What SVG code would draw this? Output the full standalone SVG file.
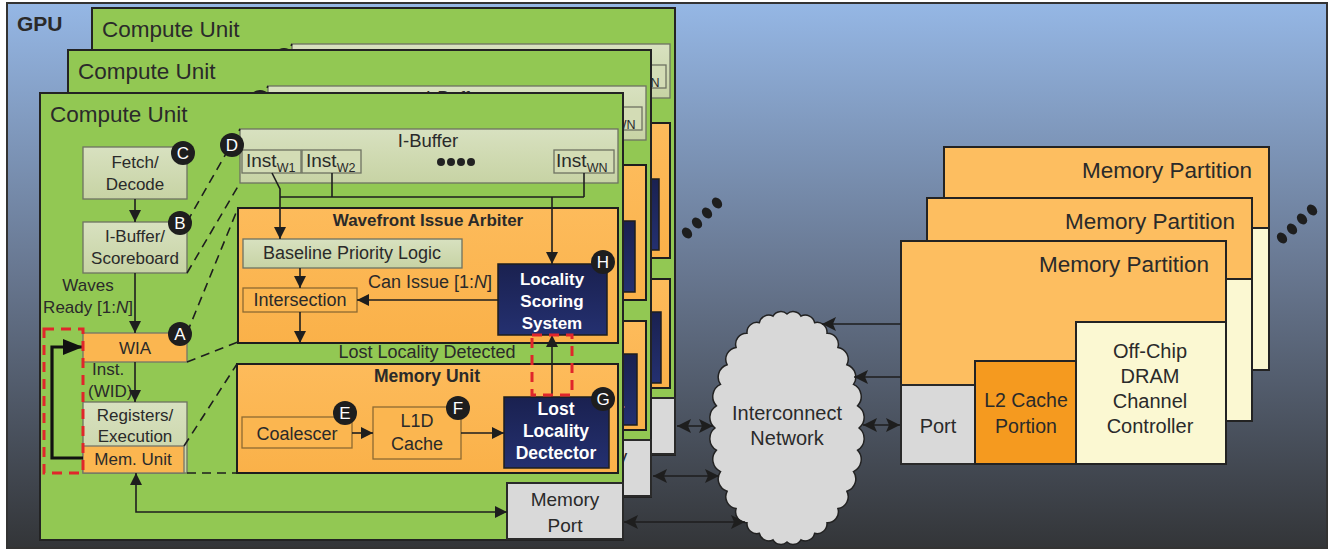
<svg xmlns="http://www.w3.org/2000/svg" width="1330" height="552" viewBox="0 0 1330 552">
<defs>
<linearGradient id="gpuBg" x1="0" y1="0" x2="0" y2="1">
<stop offset="0" stop-color="#95b7e5"/>
<stop offset="0.5" stop-color="#67768f"/>
<stop offset="1" stop-color="#333538"/>
</linearGradient>
<linearGradient id="sageG" x1="0" y1="0" x2="0" y2="1">
<stop offset="0" stop-color="#d8e1c0"/>
<stop offset="1" stop-color="#c7d3a4"/>
</linearGradient>
<linearGradient id="navyG" x1="0" y1="0" x2="0" y2="1">
<stop offset="0" stop-color="#1a2150"/>
<stop offset="1" stop-color="#243070"/>
</linearGradient>
<linearGradient id="orgG" x1="0" y1="0" x2="0" y2="1">
<stop offset="0" stop-color="#fdbb5b"/>
<stop offset="1" stop-color="#fab149"/>
</linearGradient>
<marker id="ah" viewBox="0 0 12 12" refX="12" refY="6" markerWidth="12" markerHeight="12" markerUnits="userSpaceOnUse" orient="auto-start-reverse">
<path d="M0,0 L12,6 L0,12 z" fill="#1e1e1e"/>
</marker>
<marker id="ahBig" viewBox="0 0 20 16" refX="20" refY="8" markerWidth="20" markerHeight="16" markerUnits="userSpaceOnUse" orient="auto-start-reverse">
<path d="M0,0 L20,8 L0,16 z" fill="#111"/>
</marker>
<marker id="ahN" viewBox="0 0 14 14" refX="14" refY="7" markerWidth="14" markerHeight="14" markerUnits="userSpaceOnUse" orient="auto-start-reverse">
<path d="M0,0 L14,7 L0,14 L3,7 z" fill="#1e1e1e"/>
</marker>
<style>
.t{font-family:"Liberation Sans",Arial,sans-serif;fill:#2a2a2a}
.c{text-anchor:middle}
.e{text-anchor:end}
.b{font-weight:bold}
.w{fill:#ffffff}
.ln{stroke:#1e1e1e;stroke-width:1.6;fill:none}
.thick{stroke:#111;stroke-width:3.2;fill:none}
.dash{stroke:#1e1e1e;stroke-width:1.6;stroke-dasharray:9 6;fill:none}
.red{stroke:#e0262b;stroke-width:3;stroke-dasharray:10 7;fill:none}
.sage{fill:url(#sageG);stroke:#6e7262;stroke-width:1.3}
.inst{fill:#d3dcb5;stroke:#6e7262;stroke-width:1.3}
.org{fill:url(#orgG);stroke:#1e1e1e;stroke-width:2}
.orgIn{fill:#fbb650;stroke:#8d6a32;stroke-width:1.3}
.orgG{fill:#fbb650;stroke:#767668;stroke-width:1.3}
.navy{fill:url(#navyG);stroke:#1e1e1e;stroke-width:1.5}
.gray{fill:#d9d9d9;stroke:#2a2a2a;stroke-width:2}
.cu{fill:#92c853;stroke:#232323;stroke-width:2}
.badge circle{fill:#1e1e1e}
.badge text{font-family:"Liberation Sans",Arial,sans-serif;fill:#ffffff;font-size:17px;text-anchor:middle}
.mp{fill:#fdbe60;stroke:#232323;stroke-width:2}
.l2{fill:#f59a1f;stroke:#232323;stroke-width:2}
.dram{fill:#fbf8d2;stroke:#232323;stroke-width:2}
</style>
<g id="cu-template">
<rect class="cu" x="40" y="93" width="583" height="447"/>
<text class="t" x="50" y="122" font-size="22.5">Compute Unit</text>
<g id="i-buffer">
<rect class="sage" x="240" y="129" width="378" height="54"/>
<text class="t c" x="428" y="147" font-size="18.5">I-Buffer</text>
<rect class="inst" x="242" y="150" width="59" height="23"/>
<text class="t" x="246" y="167" font-size="19">Inst<tspan font-size="12.5" dy="5">W1</tspan></text>
<rect class="inst" x="302" y="150" width="59" height="23"/>
<text class="t" x="306" y="167" font-size="19">Inst<tspan font-size="12.5" dy="5">W2</tspan></text>
<g fill="#222"><circle cx="441" cy="162" r="4"/><circle cx="451" cy="162" r="4"/><circle cx="461" cy="162" r="4"/><circle cx="471" cy="162" r="4"/></g>
<rect class="inst" x="554" y="150" width="60" height="23"/>
<text class="t" x="556" y="167" font-size="19">Inst<tspan font-size="12.5" dy="5">WN</tspan></text>
</g>
<g id="fetch-decode">
<rect class="sage" x="83" y="147" width="104" height="52"/>
<text class="t c" x="135" y="168" font-size="17">Fetch/</text>
<text class="t c" x="135" y="190" font-size="17">Decode</text>
</g>
<g id="ibuffer-scoreboard">
<rect class="sage" x="83" y="222" width="104" height="51"/>
<text class="t c" x="135" y="242" font-size="17">I-Buffer/</text>
<text class="t c" x="135" y="264" font-size="17">Scoreboard</text>
</g>
<text class="t c" x="88" y="291" font-size="17">Waves</text>
<text class="t c" x="88" y="313" font-size="17">Ready [1:<tspan font-style="italic">N</tspan>]</text>
<g id="wia">
<rect class="orgG" x="83" y="333" width="104" height="29"/>
<text class="t c" x="135" y="354" font-size="17">WIA</text>
</g>
<text class="t" x="92" y="375" font-size="17">Inst.</text>
<text class="t" x="88" y="397" font-size="17">(WID)</text>
<g id="registers-execution">
<rect class="sage" x="83" y="402" width="104" height="71"/>
<text class="t c" x="135" y="421" font-size="17">Registers/</text>
<text class="t c" x="135" y="442" font-size="17">Execution</text>
</g>
<g id="mem-unit-small">
<rect class="orgG" x="83" y="446" width="101" height="27"/>
<text class="t c" x="133" y="465" font-size="17">Mem. Unit</text>
</g>
<g id="wavefront-issue-arbiter">
<rect class="org" x="238" y="208" width="380" height="135"/>
<text class="t c b" x="428" y="226" font-size="17">Wavefront Issue Arbiter</text>
</g>
<g id="baseline-priority-logic">
<rect class="sage" x="243" y="239" width="219" height="29"/>
<text class="t c" x="352" y="259" font-size="18">Baseline Priority Logic</text>
</g>
<g id="intersection">
<rect class="orgIn" x="243" y="288" width="114" height="24"/>
<text class="t c" x="300" y="306" font-size="18">Intersection</text>
</g>
<g id="locality-scoring-system">
<rect class="navy" x="498" y="264" width="109" height="71"/>
<text class="t c b w" x="552" y="285" font-size="17">Locality</text>
<text class="t c b w" x="552" y="307" font-size="17">Scoring</text>
<text class="t c b w" x="552" y="329" font-size="17">System</text>
</g>
<text class="t e" x="492" y="288" font-size="18">Can Issue [1:<tspan font-style="italic">N</tspan>]</text>
<text class="t c" x="427" y="358" font-size="18">Lost Locality Detected</text>
<g id="memory-unit">
<rect class="org" x="237" y="364" width="381" height="109"/>
<text class="t c b" x="427" y="382" font-size="17.5">Memory Unit</text>
</g>
<g id="coalescer">
<rect class="orgIn" x="242" y="417" width="110" height="31"/>
<text class="t c" x="297" y="440" font-size="18">Coalescer</text>
</g>
<g id="l1d-cache">
<rect class="orgIn" x="373" y="407" width="88" height="52"/>
<text class="t c" x="417" y="427" font-size="18">L1D</text>
<text class="t c" x="417" y="450" font-size="18">Cache</text>
</g>
<g id="lost-locality-detector">
<rect class="navy" x="504" y="397" width="105" height="71"/>
<text class="t c b w" x="556" y="415" font-size="17.5">Lost</text>
<text class="t c b w" x="556" y="437" font-size="17.5">Locality</text>
<text class="t c b w" x="556" y="459" font-size="17.5">Dectector</text>
</g>
<g id="memory-port">
<rect class="gray" x="507" y="483" width="116" height="56"/>
<text class="t c" x="565" y="506" font-size="19">Memory</text>
<text class="t c" x="565" y="532" font-size="19">Port</text>
</g>
<g id="cu-connectors">
<path class="ln" d="M135,199 V222" marker-end="url(#ah)"/>
<path class="ln" d="M135,273 V333" marker-end="url(#ah)"/>
<path class="ln" d="M135,362 V402" marker-end="url(#ah)"/>
<path class="thick" d="M83,458 H52 V347 H83" marker-end="url(#ahBig)"/>
<path class="ln" d="M136,473 V512 H507" marker-start="url(#ah)" marker-end="url(#ah)"/>
<path class="ln" d="M272,173 L280,189 V239" marker-end="url(#ah)"/>
<path class="ln" d="M280,197 H584"/>
<path class="ln" d="M332,173 V197"/>
<path class="ln" d="M584,173 V197"/>
<path class="ln" d="M552,197 V264" marker-end="url(#ah)"/>
<path class="ln" d="M300,268 V288" marker-end="url(#ah)"/>
<path class="ln" d="M300,312 V343" marker-end="url(#ah)"/>
<path class="ln" d="M498,300 H357" marker-end="url(#ah)"/>
<path class="ln" d="M552,397 V335" marker-end="url(#ah)"/>
<path class="ln" d="M352,433 H373" marker-end="url(#ah)"/>
<path class="ln" d="M461,433 H504" marker-end="url(#ah)"/>
<path class="dash" d="M187,222 L240,129"/>
<path class="dash" d="M187,273 L240,183"/>
<path class="dash" d="M187,333 L238,208"/>
<path class="dash" d="M187,362 L238,342"/>
<path class="dash" d="M184,446 L237,364"/>
<path class="dash" d="M187,473 H237"/>
</g>
<g id="badge-C" class="badge"><circle cx="183" cy="153" r="12"/><text x="183" y="159">C</text></g>
<g id="badge-D" class="badge"><circle cx="232" cy="145" r="12"/><text x="232" y="151">D</text></g>
<g id="badge-B" class="badge"><circle cx="180" cy="223" r="12"/><text x="180" y="229">B</text></g>
<g id="badge-A" class="badge"><circle cx="180" cy="334" r="12"/><text x="180" y="340">A</text></g>
<g id="badge-E" class="badge"><circle cx="345" cy="413" r="12"/><text x="345" y="419">E</text></g>
<g id="badge-F" class="badge"><circle cx="458" cy="408" r="12"/><text x="458" y="414">F</text></g>
<rect class="red" x="44" y="329" width="39" height="144"/>
<rect class="red" x="532" y="335" width="40" height="60"/>
</g>
<g id="mp-template">
<rect class="mp" x="0" y="0" width="325" height="223"/>
<text class="t e" x="308" y="31" font-size="22.5">Memory Partition</text>
<rect class="gray" x="0" y="144" width="74" height="79"/>
<text class="t c" x="37" y="192" font-size="20">Port</text>
<rect class="l2" x="74" y="120" width="101" height="103"/>
<text class="t c" x="125" y="166" font-size="19.5">L2 Cache</text>
<text class="t c" x="125" y="192" font-size="19.5">Portion</text>
<rect class="dram" x="175" y="81" width="150" height="142"/>
<text class="t c" x="249" y="117" font-size="20">Off-Chip</text>
<text class="t c" x="249" y="142" font-size="20">DRAM</text>
<text class="t c" x="249" y="167" font-size="20">Channel</text>
<text class="t c" x="249" y="192" font-size="20">Controller</text>
</g>
</defs>

<g id="gpu">
<rect x="7" y="3" width="1320" height="545" fill="url(#gpuBg)" stroke="#333" stroke-width="2"/>
<text class="t b" x="17" y="31" font-size="21" fill="#222">GPU</text>
</g>

<g id="compute-unit-3"><use href="#cu-template" transform="translate(52,-85)"/></g>
<g id="compute-unit-2"><use href="#cu-template" transform="translate(28,-43)"/></g>
<g id="compute-unit-1">
<use href="#cu-template"/>
<g id="badge-H" class="badge"><circle cx="603" cy="262" r="12"/><text x="603" y="268">H</text></g>
<g id="badge-G" class="badge"><circle cx="603" cy="399" r="12"/><text x="603" y="405">G</text></g>
</g>

<g id="cu-ellipsis" fill="#1e1e1e">
<ellipse cx="687" cy="233" rx="4.5" ry="6" transform="rotate(-40 687 233)"/>
<ellipse cx="697" cy="223" rx="4.5" ry="6" transform="rotate(-40 697 223)"/>
<ellipse cx="707" cy="213" rx="4.5" ry="6" transform="rotate(-40 707 213)"/>
<ellipse cx="717" cy="203" rx="4.5" ry="6" transform="rotate(-40 717 203)"/>
</g>

<g id="interconnect-network">
<path fill="#d8d8d8" stroke="#222" stroke-width="1.5" d="M859,428 A13.5,13.5 0 0 1 857.6,450.2 A13.5,13.5 0 0 1 853.5,471.6 A13,13 0 0 1 846.9,491.3 A12,12 0 0 1 837.9,508.6 A11,11 0 0 1 827,522.8 A10,10 0 0 1 814.6,533.3 A9.5,9.5 0 0 1 801,539.8 A9,9 0 0 1 787,542 A9,9 0 0 1 773,539.8 A9.5,9.5 0 0 1 759.4,533.3 A10,10 0 0 1 747,522.8 A11,11 0 0 1 736.1,508.6 A12,12 0 0 1 727.1,491.3 A13,13 0 0 1 720.5,471.6 A13.5,13.5 0 0 1 716.4,450.2 A13.5,13.5 0 0 1 715,428 A13.5,13.5 0 0 1 716.4,405.8 A13.5,13.5 0 0 1 720.5,384.4 A13,13 0 0 1 727.1,364.7 A12,12 0 0 1 736.1,347.4 A11,11 0 0 1 747,333.2 A10,10 0 0 1 759.4,322.7 A9.5,9.5 0 0 1 773,316.2 A9,9 0 0 1 787,314 A9,9 0 0 1 801,316.2 A9.5,9.5 0 0 1 814.6,322.7 A10,10 0 0 1 827,333.2 A11,11 0 0 1 837.9,347.4 A12,12 0 0 1 846.9,364.7 A13,13 0 0 1 853.5,384.4 A13.5,13.5 0 0 1 857.6,405.8 A13.5,13.5 0 0 1 859,428 Z"/>
<text class="t c" x="787" y="420" font-size="20" fill="#333">Interconnect</text>
<text class="t c" x="787" y="445" font-size="20" fill="#333">Network</text>
</g>

<g id="memory-partition-3"><use href="#mp-template" transform="translate(944,147)"/></g>
<g id="memory-partition-2"><use href="#mp-template" transform="translate(927,198)"/></g>
<g id="memory-partition-1"><use href="#mp-template" transform="translate(901,241)"/></g>

<g id="mp-ellipsis" fill="#1e1e1e">
<ellipse cx="1282" cy="238" rx="4.5" ry="6" transform="rotate(-40 1282 238)"/>
<ellipse cx="1292" cy="229" rx="4.5" ry="6" transform="rotate(-40 1292 229)"/>
<ellipse cx="1302" cy="219" rx="4.5" ry="6" transform="rotate(-40 1302 219)"/>
<ellipse cx="1312" cy="210" rx="4.5" ry="6" transform="rotate(-40 1312 210)"/>
</g>

<g id="connectors">
<path class="ln" d="M677,426 H713" marker-start="url(#ahN)" marker-end="url(#ahN)"/>
<path class="ln" d="M653,476 H719" marker-start="url(#ahN)" marker-end="url(#ahN)"/>
<path class="ln" d="M624,522 H745" marker-start="url(#ahN)" marker-end="url(#ahN)"/>
<path class="ln" d="M901,324 H822" marker-end="url(#ahN)"/>
<path class="ln" d="M901,377 H854" marker-end="url(#ahN)"/>
<path class="ln" d="M863,425 H900" marker-start="url(#ahN)" marker-end="url(#ahN)"/>
</g>
</svg>
